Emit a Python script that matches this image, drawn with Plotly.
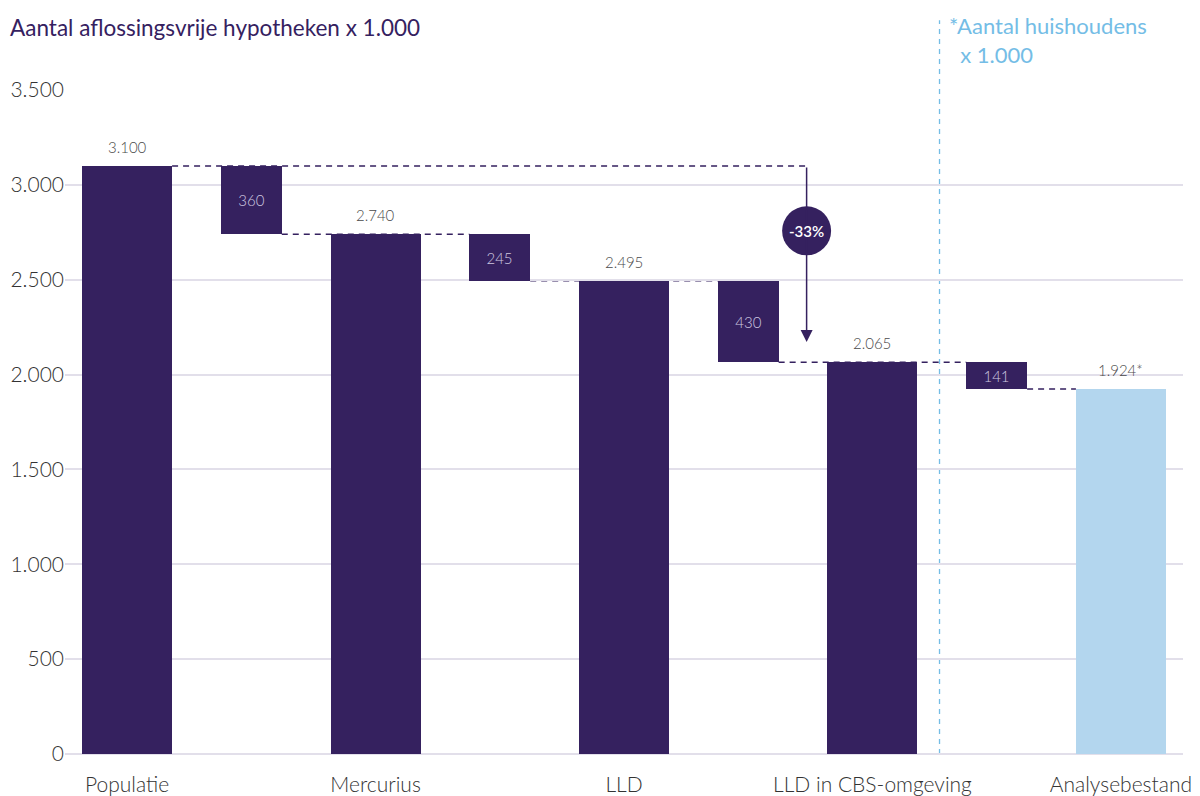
import plotly.graph_objects as go

categories = ["Populatie", "Mercurius", "LLD", "LLD in CBS-omgeving", "Analysebestand"]
totals = [3100, 2740, 2495, 2065, 1924]
steps = [360, 245, 430, 141]
y_ticks = [0, 500, 1000, 1500, 2000, 2500, 3000, 3500]

PURPLE = "#35215f"
LIGHT = "#b3d6ee"
SKY = "#74bde6"
GRID = "#e2dfea"
MAIN_W = 0.724
STEP_W = 0.49


def nl(v):
    return f"{v:,}".replace(",", ".")


main_x = [2 * i for i in range(len(totals))]
step_x = [2 * i + 1 for i in range(len(steps))]
main_colors = [PURPLE] * (len(totals) - 1) + [LIGHT]

fig = go.Figure()

fig.add_trace(go.Bar(
    x=main_x, y=totals, width=MAIN_W,
    marker=dict(color=main_colors, line_width=0),
    hoverinfo="skip",
))

fig.add_trace(go.Bar(
    x=step_x, y=steps, base=totals[1:], width=STEP_W,
    marker=dict(color=PURPLE, line_width=0),
    text=[str(s) for s in steps], textposition="inside",
    insidetextanchor="middle", textangle=0,
    textfont=dict(family="Lato", size=15, color="#cfc8e0", weight=300),
    hoverinfo="skip",
))

# value labels above main bars
for i, (x, v) in enumerate(zip(main_x, totals)):
    label = nl(v) + ("*" if i == len(totals) - 1 else "")
    fig.add_annotation(x=x, y=v, text=label, showarrow=False, yanchor="bottom",
                       yshift=8, font=dict(family="Lato", size=15, color="#4a4a4a", weight=300))

# dashed connectors
dash = dict(color=PURPLE, width=1.5, dash="6px,5px")
arrow_x = 5.47
fig.add_shape(type="line", x0=MAIN_W / 2, x1=arrow_x, y0=totals[0], y1=totals[0],
              line=dash, layer="below")
for k in range(len(steps)):
    x0 = step_x[k] + STEP_W / 2
    x1 = (step_x[k + 1] - STEP_W / 2) if k + 1 < len(steps) else main_x[-1] - MAIN_W / 2
    fig.add_shape(type="line", x0=x0, x1=x1, y0=totals[k + 1], y1=totals[k + 1],
                  line=dash, layer="below")

# arrow with percentage
pct = round((totals[3] - totals[0]) / totals[0] * 100)
fig.add_annotation(x=arrow_x, y=2172, ax=arrow_x, ay=totals[0], axref="x", ayref="y",
                   xref="x", yref="y", text="", showarrow=True, arrowhead=2,
                   arrowsize=1.6, arrowwidth=1.5, arrowcolor=PURPLE)
fig.add_shape(type="circle", xref="x", yref="y", xsizemode="pixel", ysizemode="pixel",
              xanchor=arrow_x, yanchor=2758, x0=-24.5, x1=24.5, y0=-24.5, y1=24.5,
              fillcolor=PURPLE, line_width=0)
fig.add_annotation(x=arrow_x, y=2758, text=f"{pct}%", showarrow=False,
                   font=dict(family="Lato", size=15, color="white", weight=600))

# separator line and household note
fig.add_shape(type="line", xref="x", yref="paper", x0=6.54, x1=6.54, y0=0, y1=1.105,
              line=dict(color=SKY, width=1.3, dash="5px,5px"), layer="below")
fig.add_annotation(xref="x", yref="paper", x=6.6, y=1.121, xanchor="left", yanchor="top",
                   align="left", showarrow=False,
                   text="*Aantal huishoudens<br>&nbsp;&nbsp;x 1.000",
                   font=dict(family="Lato", size=22, color=SKY))

# page body adds an 8px offset, so the figure is 8px smaller than the window
fig.update_layout(
    width=1192, height=788,
    margin=dict(l=57, r=17, t=82, b=42),
    paper_bgcolor="white", plot_bgcolor="white",
    showlegend=False, bargap=0, separators=",.",
    title=dict(text="Aantal aflossingsvrije hypotheken x 1.000", x=0.0, xanchor="left",
               y=0.975, yanchor="middle", pad=dict(l=2),
               font=dict(family="Lato", size=22.5, color=PURPLE)),
    font=dict(family="Lato", color="#333333"),
)
fig.update_xaxes(range=[-0.5, 8.5], tickvals=main_x, ticktext=categories,
                 showgrid=False, zeroline=False, showline=False, ticks="",
                 automargin=False, ticklabelstandoff=16,
                 tickfont=dict(family="Lato", size=21, color="#333333", weight=300))
fig.update_yaxes(range=[0, 3500], tickvals=y_ticks, ticktext=[nl(v) for v in y_ticks],
                 showgrid=True, gridcolor=GRID, gridwidth=2, zeroline=True,
                 zerolinecolor=GRID, zerolinewidth=2, ticks="", automargin=False,
                 tickfont=dict(family="Lato", size=21, color="#333333", weight=300))

fig.write_html("out.html")
